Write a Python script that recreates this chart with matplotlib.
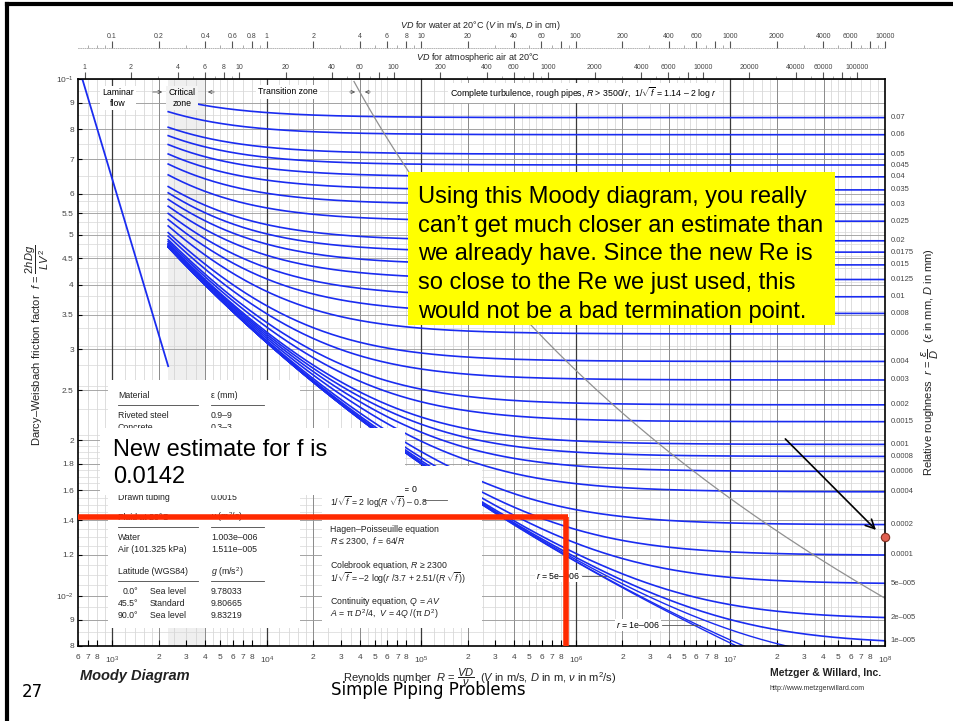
import numpy as np
import matplotlib
matplotlib.use('Agg')
import matplotlib.pyplot as plt
from matplotlib.patches import Rectangle
from matplotlib.lines import Line2D
from matplotlib.ticker import FixedLocator, NullFormatter

plt.rcParams['font.family'] = ['Liberation Sans', 'DejaVu Sans']
plt.rcParams['mathtext.fontset'] = 'custom'
plt.rcParams['mathtext.rm'] = 'Liberation Sans'
plt.rcParams['mathtext.it'] = 'Liberation Sans:italic'
plt.rcParams['mathtext.bf'] = 'Liberation Sans:bold'

# relative roughness of each curve, as labelled on the right edge
rough = [0.07, 0.06, 0.05, 0.045, 0.04, 0.035, 0.03, 0.025, 0.02, 0.0175,
         0.015, 0.0125, 0.01, 0.008, 0.006, 0.004, 0.003, 0.002, 0.0015,
         0.001, 0.0008, 0.0006, 0.0004, 0.0002, 0.0001, 5e-5, 2e-5, 1e-5]
rough_labels = ['0.07', '0.06', '0.05', '0.045', '0.04', '0.035', '0.03', '0.025',
                '0.02', '0.0175', '0.015', '0.0125', '0.01', '0.008', '0.006',
                '0.004', '0.003', '0.002', '0.0015', '0.001', '0.0008', '0.0006',
                '0.0004', '0.0002', '0.0001', '5e–005', '2e–005', '1e–005']
rough_inline = [5e-6, 1e-6, 0.0]   # r = 5e-006, r = 1e-006, smooth pipe

Re_lam = [640, 2300]          # laminar line end points (f = 64/R)
Re_crit = [2300, 4000]        # critical zone
Re_min, Re_max = 600, 1e8
f_min, f_max = 0.008, 0.1

# iteration result marked on the slide
f_est = 0.0142
Re_est = 8.6e5
pt_Re, pt_f = 1e8, 0.0130
arrow_from = (2.2e7, 0.0203)
arrow_to = (9.0e7, 0.0133)

ytick_vals = [0.1, 0.09, 0.08, 0.07, 0.06, 0.055, 0.05, 0.045, 0.04, 0.035, 0.03,
              0.025, 0.02, 0.018, 0.016, 0.014, 0.012, 0.01, 0.009, 0.008]
ytick_labels = ['$10^{-1}$', '9', '8', '7', '6', '5.5', '5', '4.5', '4', '3.5', '3',
                '2.5', '2', '1.8', '1.6', '1.4', '1.2', '$10^{-2}$', '9', '8']

xtick_vals = [600, 700, 800]
xtick_labels = ['6', '7', '8']
for e in range(3, 8):
    xtick_vals.append(10 ** e)
    xtick_labels.append('$10^{%d}$' % e)
    for m in range(2, 9):
        xtick_vals.append(m * 10 ** e)
        xtick_labels.append(str(m))
xtick_vals.append(1e8)
xtick_labels.append('$10^{8}$')

nu_water = 1.003e-6
nu_air = 1.511e-5
water_ticks = [0.06, 0.1, 0.2, 0.4, 0.6, 0.8, 1, 2, 4, 6, 8, 10, 20, 40, 60, 80, 100,
               200, 400, 600, 800, 1000, 2000, 4000, 6000, 8000, 10000]
water_labels = ['0.06', '0.1', '0.2', '0.4', '0.6', '0.8', '1', '2', '4', '6', '8', '10',
                '20', '40', '60', '', '100', '200', '400', '600', '', '1000', '2000',
                '4000', '6000', '', '10000']
air_ticks = [1, 2, 4, 6, 8, 10, 20, 40, 60, 80, 100, 200, 400, 600, 800, 1000, 2000,
             4000, 6000, 8000, 10000, 20000, 40000, 60000, 80000, 100000]
air_labels = ['1', '2', '4', '6', '8', '10', '20', '40', '60', '', '100', '200', '400',
              '600', '', '1000', '2000', '4000', '6000', '', '10000', '20000', '40000',
              '60000', '', '100000']

materials = [('Riveted steel', '0.9–9'), ('Concrete', '0.3–3'), ('Wood stave', '0.18–0.9'),
             ('Cast iron', '0.26'), ('Galvanized iron', '0.15'),
             ('Asphalted cast iron', '0.12'), ('Commercial steel', '0.045'),
             ('Drawn tubing', '0.0015')]
fluids = [('Water', '1.003e–006'), ('Air (101.325 kPa)', '1.511e–005')]
latitudes = [('0.0°', 'Sea level', '9.78033'), ('45.5°', 'Standard', '9.80665'),
             ('90.0°', 'Sea level', '9.83219')]


def colebrook(Re, r):
    x = np.full_like(Re, 8.0)
    for _ in range(80):
        x = -2 * np.log10(r / 3.7 + 2.51 * x / Re)
    return 1 / x ** 2


W, H = 954, 721


def P(px, py):
    return (px / W, 1 - py / H)


fig = plt.figure(figsize=(9.54, 7.21), dpi=100)
ax = fig.add_axes([78 / W, 1 - 646 / H, (885 - 78) / W, (646 - 79) / H])
ax.set_xscale('log')
ax.set_yscale('log')
ax.set_xlim(Re_min, Re_max)
ax.set_ylim(f_min, f_max)

# grid
ax.axvspan(Re_crit[0], Re_crit[1], color='#efefef', zorder=0, lw=0)
for e in range(2, 8):
    for m in [1.2, 1.4, 1.6, 1.8, 2.5, 3, 3.5, 4.5, 5, 5.5, 6, 7, 8, 9]:
        v = m * 10 ** e
        if Re_min < v < Re_max:
            ax.axvline(v, color='#d0d0d0', lw=0.5, zorder=0.5)
    for m in [2, 4]:
        v = m * 10 ** e
        if Re_min < v < Re_max:
            ax.axvline(v, color='#8a8a8a', lw=0.7, zorder=0.6)
    if Re_min < 10 ** e < Re_max:
        ax.axvline(10 ** e, color='#3a3a3a', lw=0.9, zorder=0.7)
hminor = np.concatenate([np.arange(0.0085, 0.02, 0.0005), np.arange(0.0205, 0.06, 0.0025),
                         np.arange(0.065, 0.1, 0.005)])
for v in hminor:
    ax.axhline(v, color='#d8d8d8', lw=0.5, zorder=0.5)
for v in ytick_vals:
    ax.axhline(v, color='#9a9a9a', lw=0.6, zorder=0.6)

# laminar line
Re_l = np.array(Re_lam, dtype=float)
ax.plot(Re_l, 64 / Re_l, color='#1a2cf0', lw=1.3, zorder=2)

# roughness curves
Re = np.logspace(np.log10(2300), 8, 500)
curve_col = '#1a2cf0'
for r, lab in zip(rough, rough_labels):
    f = colebrook(Re, r)
    ax.plot(Re, f, color=curve_col, lw=1.2, zorder=2)
    ax.text(1.007, f[-1], lab, transform=ax.get_yaxis_transform(), fontsize=5.5,
            color='#444444', va='center', ha='left')
for r in rough_inline:
    ax.plot(Re, colebrook(Re, r), color=curve_col, lw=1.0, zorder=2)

# boundary of complete turbulence, R = 3500/r
r_b = np.logspace(-1.02, np.log10(3.5e-5), 200)
ax.plot(3500 / r_b, (1.14 - 2 * np.log10(r_b)) ** -2, color='#909090', lw=0.9, zorder=2.1)

# axes styling
for s in ax.spines.values():
    s.set_color('black')
    s.set_linewidth(1.2)
ax.yaxis.set_major_locator(FixedLocator(ytick_vals))
ax.set_yticklabels(ytick_labels)
ax.yaxis.set_minor_locator(FixedLocator([]))
ax.xaxis.set_major_locator(FixedLocator(xtick_vals))
ax.set_xticklabels(xtick_labels)
ax.xaxis.set_minor_locator(FixedLocator([]))
ax.tick_params(axis='y', which='major', direction='in', length=3, labelsize=6,
               labelcolor='#444444', pad=3)
ax.tick_params(axis='x', which='major', direction='in', length=4, labelsize=6,
               labelcolor='#444444', pad=6)

# top scales
sec_w = ax.secondary_xaxis(1.055, functions=(lambda x: x * nu_water * 100,
                                             lambda v: v / (nu_water * 100)))
sec_a = ax.secondary_xaxis('top', functions=(lambda x: x * nu_air * 100,
                                             lambda v: v / (nu_air * 100)))
for sec, tv, tl, lo, hi in [(sec_w, water_ticks, water_labels, 0.06, 10030),
                            (sec_a, air_ticks, air_labels, 0.9, 151000)]:
    sec.xaxis.set_major_locator(FixedLocator(tv))
    sec.set_xticklabels(tl)
    mins = [m * 10.0 ** e for e in range(-3, 6) for m in range(1, 10)]
    sec.xaxis.set_minor_locator(FixedLocator([v for v in mins if lo <= v <= hi]))
    sec.xaxis.set_minor_formatter(NullFormatter())
    sec.tick_params(which='major', direction='out', length=5, width=0.8, labelsize=5,
                    labelcolor='#444444', color='#555555', pad=0.5)
    sec.tick_params(which='minor', direction='out', length=2.5, width=0.5, color='#888888')
sec_w.spines['top'].set_color('#aaaaaa')
sec_w.spines['top'].set_linewidth(0.6)
sec_w.spines['top'].set_linestyle(':')
sec_a.spines['top'].set_visible(False)

fig.text(*P(480, 26), r'$VD$ for water at 20°C ($V$ in m/s, $D$ in cm)', fontsize=6.5,
         ha='center', va='center', color='#222222')
fig.text(*P(478, 57), r'$VD$ for atmospheric air at 20°C', fontsize=6.5,
         ha='center', va='center', color='#222222')

# zone labels
wb = dict(fc='white', ec='none', pad=1.5)
ax.text(*P(118, 98), 'Laminar\nflow', transform=fig.transFigure, fontsize=6.3, ha='center',
        va='center', linespacing=1.15, bbox=wb, zorder=5)
ax.text(*P(182, 98), 'Critical\nzone', transform=fig.transFigure, fontsize=6.3, ha='center',
        va='center', linespacing=1.15, bbox=dict(fc='#f3f3f3', ec='none', pad=1.5), zorder=5)
ax.text(*P(288, 92), 'Transition zone', transform=fig.transFigure, fontsize=6.3, ha='center',
        va='center', bbox=wb, zorder=5)
ax.text(*P(450, 93), r'Complete turbulence, rough pipes, $R$ > 3500/$r$,  1/$\sqrt{f}$ = 1.14 – 2 log $r$',
        transform=fig.transFigure, fontsize=6.3, ha='left', va='center', bbox=wb, zorder=5)
arr = dict(arrowstyle='->', color='#555555', lw=0.6, mutation_scale=6)
for a, b in [((150, 92), (165, 92)), ((217, 92), (205, 92)),
             ((347, 92), (358, 92)), ((373, 92), (362, 92))]:
    ax.annotate('', xy=P(*b), xytext=P(*a), xycoords='figure fraction',
                textcoords='figure fraction', arrowprops=arr, zorder=6)

# inline curve labels
ax.text(*P(580, 576), r'$r$ = 5e–006', transform=fig.transFigure, fontsize=6.3, ha='right',
        va='center', bbox=dict(fc='white', ec='none', pad=0.8), zorder=5)
ax.add_line(Line2D([P(582, 576)[0], P(606, 576)[0]], [P(0, 576)[1]] * 2,
                   transform=fig.transFigure, color='#555555', lw=0.6, zorder=5))
ax.text(*P(660, 625), r'$r$ = 1e–006', transform=fig.transFigure, fontsize=6.3, ha='right',
        va='center', bbox=dict(fc='white', ec='none', pad=0.8), zorder=5)
ax.add_line(Line2D([P(662, 625)[0], P(700, 625)[0]], [P(0, 625)[1]] * 2,
                   transform=fig.transFigure, color='#555555', lw=0.6, zorder=5))

# equation box
ax.add_patch(Rectangle(P(322, 628), 160 / W, 162 / H, transform=fig.transFigure,
                       fc='white', ec='none', zorder=4))
ax.text(*P(418, 490), r'Smooth pipes, $r$ = 0', transform=fig.transFigure, fontsize=6.3,
        ha='right', va='center', zorder=5)
eqs = [(502, r'1/$\sqrt{f}$ = 2 log($R$ $\sqrt{f}$) – 0.8'),
       (529, r'Hagen–Poisseuille equation'),
       (541, r'$R$ ≤ 2300,  $f$ = 64/$R$'),
       (566, r'Colebrook equation, $R$ ≥ 2300'),
       (578, r'1/$\sqrt{f}$ = –2 log($r$ /3.7 + 2.51/($R$ $\sqrt{f}$))'),
       (602, r'Continuity equation, $Q$ = $AV$'),
       (614, r'$A$ = π $D^2$/4,  $V$ = 4$Q$ /(π $D^2$)')]
for py, s in eqs:
    ax.text(*P(330, py), s, transform=fig.transFigure, fontsize=6.3, ha='left',
            va='center', zorder=5, color='#222222')
ax.add_line(Line2D([P(424, 0)[0], P(447, 0)[0]], [P(0, 500)[1]] * 2,
                   transform=fig.transFigure, color='#555555', lw=0.6, zorder=5))

# material table
ax.add_patch(Rectangle(P(108, 628), 192 / W, 248 / H, transform=fig.transFigure,
                       fc='white', ec='none', zorder=4))
tk = dict(transform=fig.transFigure, fontsize=6.3, va='center', zorder=5, color='#222222')
ax.text(*P(118, 396), 'Material', **tk)
ax.text(*P(211, 396), r'ε (mm)', **tk)
for i, (m, v) in enumerate(materials):
    ax.text(*P(118, 416 + 11.6 * i), m, **tk)
    ax.text(*P(211, 416 + 11.6 * i), v, **tk)
ax.text(*P(118, 517), 'Fluid at 20°C', **tk)
ax.text(*P(211, 517), r'ν (m$^2$/s)', **tk)
for i, (m, v) in enumerate(fluids):
    ax.text(*P(118, 537 + 12 * i), m, **tk)
    ax.text(*P(211, 537 + 12 * i), v, **tk)
ax.text(*P(118, 572), 'Latitude (WGS84)', **tk)
ax.text(*P(211, 572), r'$g$ (m/s$^2$)', **tk)
for i, (a, b, c) in enumerate(latitudes):
    ax.text(*P(138, 592 + 11.5 * i), a, ha='right', **tk)
    ax.text(*P(150, 592 + 11.5 * i), b, **tk)
    ax.text(*P(211, 592 + 11.5 * i), c, **tk)
for py in [405, 527, 581]:
    for x0, x1 in [(118, 198), (211, 264)]:
        ax.add_line(Line2D([P(x0, 0)[0], P(x1, 0)[0]], [P(0, py)[1]] * 2,
                           transform=fig.transFigure, color='#444444', lw=0.6, zorder=5))

# the estimate
ax.hlines(f_est, Re_min, Re_est * 1.03, color='#ff2a00', lw=4, zorder=8)
ax.vlines(Re_est, f_min, f_est, color='#ff2a00', lw=4, zorder=8)
ax.annotate('', xy=arrow_to, xytext=arrow_from,
            arrowprops=dict(arrowstyle='->', color='black', lw=1.2, mutation_scale=16),
            zorder=9)
ax.plot([pt_Re], [pt_f], 'o', ms=6, mfc='#e06050', mec='#803020', mew=0.8,
        clip_on=False, zorder=10)

# axis titles
fig.text(*P(37, 345), r'Darcy–Weisbach friction factor  $f$ = $\dfrac{2hDg}{LV^2}$',
         rotation=90, fontsize=8, ha='center', va='center', color='#222222')
fig.text(*P(930, 362), r'Relative roughness  $r$ = $\dfrac{\varepsilon}{D}$  ($\varepsilon$ in mm, $D$ in mm)',
         rotation=90, fontsize=8, ha='center', va='center', color='#222222')
fig.text(*P(480, 677), r'Reynolds number  $R$ = $\dfrac{VD}{\nu}$  ($V$ in m/s, $D$ in m, $\nu$ in m$^2$/s)',
         fontsize=8, ha='center', va='center', color='#222222')
fig.text(*P(80, 676), 'Moody Diagram', fontsize=10.5, fontweight='bold', style='italic',
         ha='left', va='center', color='#222222')
fig.text(*P(770, 673), 'Metzger & Willard, Inc.', fontsize=7.5, fontweight='bold',
         ha='left', va='center', color='#222222')
fig.text(*P(770, 688), 'http://www.metzgerwillard.com', fontsize=5, ha='left', va='center',
         color='#333333')

# slide overlays
fig.patches.append(Rectangle(P(100, 495), 305 / W, 67 / H, transform=fig.transFigure,
                             fc='white', ec='none', zorder=20))
fig.text(*P(113, 439), 'New estimate for f is\n0.0142', fontsize=17, ha='left', va='top',
         linespacing=1.3, zorder=21)
fig.patches.append(Rectangle(P(408, 325), 427 / W, 153 / H, transform=fig.transFigure,
                             fc='#ffff00', ec='none', zorder=20))
fig.text(*P(418, 186), 'Using this Moody diagram, you really\n'
         'can’t get much closer an estimate than\n'
         'we already have. Since the new Re is\n'
         'so close to the Re we just used, this\n'
         'would not be a bad termination point.',
         fontsize=17, ha='left', va='top', linespacing=1.39, zorder=21)
fig.text(*P(32, 692), '27', fontsize=12, ha='center', va='center', family='DejaVu Sans')
fig.text(*P(428, 690), 'Simple Piping Problems', fontsize=12, ha='center', va='center',
         family='DejaVu Sans')
fig.add_artist(Line2D([P(7, 0)[0], 1], [P(0, 4)[1]] * 2, transform=fig.transFigure,
                      color='black', lw=3))
fig.add_artist(Line2D([P(7, 0)[0]] * 2, [P(0, 4)[1], 0], transform=fig.transFigure,
                      color='black', lw=3))

fig.savefig('out.png', dpi=100)
